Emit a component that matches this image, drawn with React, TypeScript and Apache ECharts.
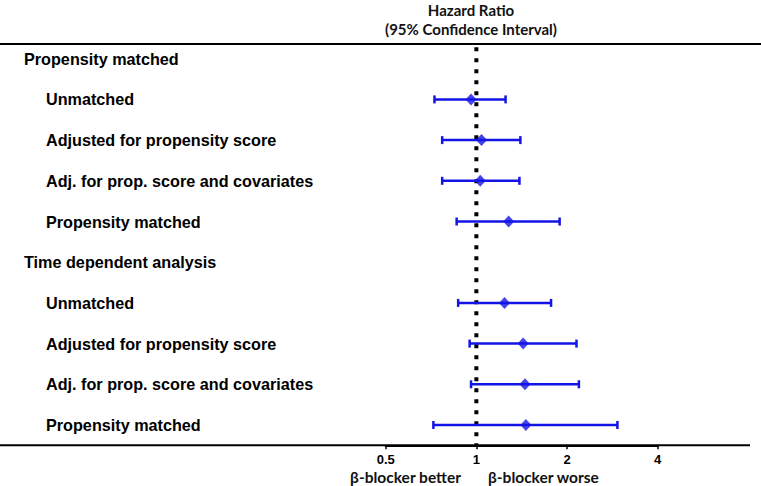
import React, { useEffect, useRef } from "react";
import * as echarts from "echarts";

const rowLabels = [
  "Propensity matched",
  "Unmatched",
  "Adjusted for propensity score",
  "Adj. for prop. score and covariates",
  "Propensity matched",
  "Time dependent analysis",
  "Unmatched",
  "Adjusted for propensity score",
  "Adj. for prop. score and covariates",
  "Propensity matched",
];
const isHeader = [true, false, false, false, false, true, false, false, false, false];

// row index, hazard ratio, lower CI, upper CI
const rowIndex = [1, 2, 3, 4, 6, 7, 8, 9];
const hazardRatio = [0.96, 1.04, 1.03, 1.28, 1.24, 1.43, 1.45, 1.46];
const lowerCI = [0.726, 0.77, 0.77, 0.86, 0.87, 0.95, 0.96, 0.72];
const upperCI = [1.25, 1.4, 1.39, 1.89, 1.77, 2.15, 2.19, 2.94];

const xTicks = [0.5, 1, 2, 4];
const refValue = 1;

const BLUE = "#1414e6";
const LABEL_FONT = "'Liberation Sans', Arial, sans-serif";
const HEAD_FONT = "Lato, 'Open Sans', sans-serif";

export default function App() {
  const ref = useRef<HTMLDivElement>(null);
  useEffect(() => {
    if (!ref.current) return;
    const chart = echarts.init(ref.current, undefined, { renderer: "svg" });
    const gridLeft = 385.7;
    const gridRight = 761 - 657.7;
    const option: any = {
      animation: false,
      backgroundColor: "#ffffff",
      title: {
        text: "Hazard Ratio\n(95% Confidence Interval)",
        left: 471,
        top: 0,
        padding: 0,
        textAlign: "center",
        textStyle: {
          fontFamily: HEAD_FONT,
          fontWeight: "bold",
          fontSize: 15,
          lineHeight: 19,
          color: "#111",
        },
      },
      grid: { left: gridLeft, right: gridRight, top: 38.35, height: 407 },
      xAxis: {
        type: "log",
        logBase: 2,
        min: xTicks[0],
        max: xTicks[xTicks.length - 1],
        splitLine: { show: false },
        axisLine: { show: true, lineStyle: { color: "#000", width: 2 } },
        axisTick: { show: true, length: 4, lineStyle: { color: "#000", width: 1.5 } },
        minorTick: { show: false },
        axisLabel: {
          margin: 8,
          fontFamily: LABEL_FONT,
          fontWeight: "bold",
          fontSize: 13,
          color: "#000",
          formatter: (v: number) => String(v),
        },
      },
      yAxis: {
        type: "category",
        inverse: true,
        data: rowLabels,
        axisLine: { show: false },
        axisTick: { show: false },
        splitLine: { show: false },
        axisLabel: {
          align: "left",
          margin: gridLeft - 24,
          formatter: (v: string, i: number) => (isHeader[i] ? `{h|${v}}` : `{s|${v}}`),
          rich: {
            h: { fontFamily: LABEL_FONT, fontWeight: "bold", fontSize: 16.2, color: "#000" },
            s: {
              fontFamily: LABEL_FONT,
              fontWeight: "bold",
              fontSize: 16.2,
              color: "#000",
              padding: [0, 0, 0, 22],
            },
          },
        },
      },
      graphic: [
        {
          type: "line",
          shape: { x1: 0, y1: 44, x2: 761, y2: 44 },
          style: { stroke: "#000", lineWidth: 2 },
        },
        {
          type: "line",
          shape: { x1: 0, y1: 445.35, x2: 750, y2: 445.35 },
          style: { stroke: "#000", lineWidth: 2 },
        },
        {
          type: "text",
          x: 461,
          y: 477,
          style: {
            text: "β-blocker better",
            fontFamily: HEAD_FONT,
            fontWeight: "bold",
            fontSize: 15.5,
            fill: "#111",
            textAlign: "right",
            textVerticalAlign: "middle",
          },
        },
        {
          type: "text",
          x: 488,
          y: 477,
          style: {
            text: "β-blocker worse",
            fontFamily: HEAD_FONT,
            fontWeight: "bold",
            fontSize: 15.5,
            fill: "#111",
            textAlign: "left",
            textVerticalAlign: "middle",
          },
        },
      ],
      series: [
        {
          type: "custom",
          name: "reference",
          data: [[refValue, 0]],
          encode: { x: 0, y: 1 },
          silent: true,
          renderItem: (params: any, api: any) => {
            const p = api.coord([api.value(0), 0]);
            const cs = params.coordSys;
            return {
              type: "line",
              shape: { x1: p[0], y1: cs.y + 9, x2: p[0], y2: cs.y + cs.height },
              style: { stroke: "#000", lineWidth: 4, lineDash: [4, 7] },
            };
          },
          z: 1,
        },
        {
          type: "custom",
          name: "CI",
          data: rowIndex.map((r, i) => [lowerCI[i], upperCI[i], r]),
          encode: { x: [0, 1], y: 2 },
          renderItem: (_params: any, api: any) => {
            const y = api.value(2);
            const lo = api.coord([api.value(0), y]);
            const hi = api.coord([api.value(1), y]);
            const cap = 4;
            const st = { stroke: BLUE, lineWidth: 2.5 };
            return {
              type: "group",
              children: [
                { type: "line", shape: { x1: lo[0], y1: lo[1], x2: hi[0], y2: hi[1] }, style: st },
                { type: "line", shape: { x1: lo[0], y1: lo[1] - cap, x2: lo[0], y2: lo[1] + cap }, style: st },
                { type: "line", shape: { x1: hi[0], y1: hi[1] - cap, x2: hi[0], y2: hi[1] + cap }, style: st },
              ],
            };
          },
          z: 2,
        },
        {
          type: "scatter",
          name: "HR",
          data: rowIndex.map((r, i) => [hazardRatio[i], r]),
          symbol: "diamond",
          symbolSize: [11, 12],
          itemStyle: { color: BLUE },
          z: 3,
        },
      ],
    };
    chart.setOption(option);
    return () => chart.dispose();
  }, []);
  return (
    <div
      ref={ref}
      style={{ position: "fixed", left: 0, top: 0, width: 761, height: 486, background: "#fff" }}
    />
  );
}
